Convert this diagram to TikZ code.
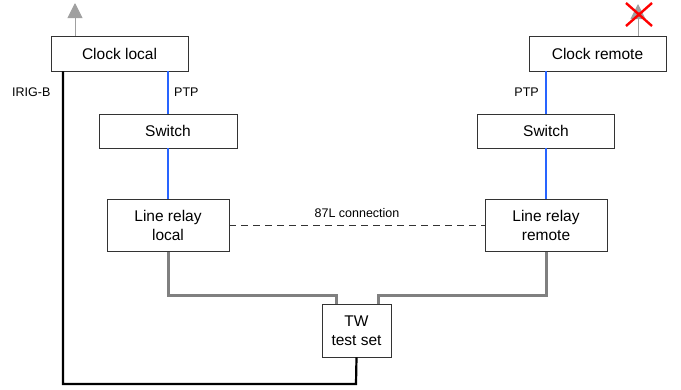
\documentclass[tikz,border=0pt]{standalone}
\usepackage{fontspec}
\setmainfont{Liberation Sans}
\usetikzlibrary{arrows.meta}
\definecolor{ptpblue}{RGB}{40,100,255}
\definecolor{relgray}{RGB}{128,128,128}
\definecolor{antgray}{RGB}{160,160,160}
\begin{document}
\begin{tikzpicture}[x=1pt,y=-1pt,
  box/.style={draw=black!80,line width=0.8pt,fill=white,inner sep=0pt,align=center,font=\fontsize{15.5}{18.5}\selectfont},
  lbl/.style={font=\fontsize{12.5}{14}\selectfont,inner sep=0pt},
  ptp/.style={draw=ptpblue,line width=1.8pt},
  grayw/.style={draw=relgray,line width=3pt},
  irig/.style={draw=black,line width=2.2pt},
  ant/.style={draw=antgray,line width=1pt,-{Triangle[length=15pt,width=15pt]}}]
\useasboundingbox (0,0) rectangle (681,389);
\node[box,minimum width=137pt,minimum height=35pt] (cl) at (119.5,53.5) {Clock local};
\node[box,minimum width=137pt,minimum height=35pt] (cr) at (597.5,53.5) {Clock remote};
\node[box,minimum width=138pt,minimum height=34pt] (sl) at (168,131) {Switch};
\node[box,minimum width=137pt,minimum height=34pt] (sr) at (546,131) {Switch};
\node[box,minimum width=122pt,minimum height=52pt] (rl) at (168,225.5) {Line relay\\local};
\node[box,minimum width=122pt,minimum height=52pt] (rr) at (546,225.5) {Line relay\\remote};
\node[box,minimum width=69pt,minimum height=53pt] (tw) at (356.5,330.5) {TW\\test set};
\coordinate (a1) at (75,3);
\coordinate (a2) at (638,4);
\coordinate (irigc1) at (63,384);
\coordinate (irigc2) at (356,384);
\coordinate (xc) at (639,14.5);
% antennas
\draw[ant] (cl.north -| a1) -- (a1);
\draw[ant] (cr.north -| a2) -- (a2);
\draw[red,line width=2.4pt] ([shift={(-13,-11.5)}]xc) -- ([shift={(13,11.5)}]xc)
  ([shift={(-13,11.5)}]xc) -- ([shift={(13,-11.5)}]xc);
% PTP
\draw[ptp] (cl.south -| sl.north) -- (sl.north);
\draw[ptp] (sl.south) -- (rl.north);
\draw[ptp] (cr.south -| sr.north) -- (sr.north);
\draw[ptp] (sr.south) -- (rr.north);
\node[lbl,anchor=west] (ptpl) at (174,92) {PTP};
\node[lbl,anchor=east] (ptpr) at (539,92) {PTP};
% 87L
\draw[dash pattern=on 7pt off 5pt,line width=1pt,black!80] (rl.east) -- (rr.west);
\node[lbl] (l87) at (357,213.5) {87L connection};
% gray to TW
\draw[grayw] (rl.south) -- (168,295) -- (336,295) -- (336,304);
\draw[grayw] (rr.south) -- (546,295) -- (378,295) -- (378,304);
% IRIG-B
\draw[irig] (cl.south -| irigc1) -- (irigc1) -- (irigc2) -- (tw.south);
\node[lbl,anchor=west] (irigl) at (12,92) {IRIG-B};
\end{tikzpicture}
\end{document}
